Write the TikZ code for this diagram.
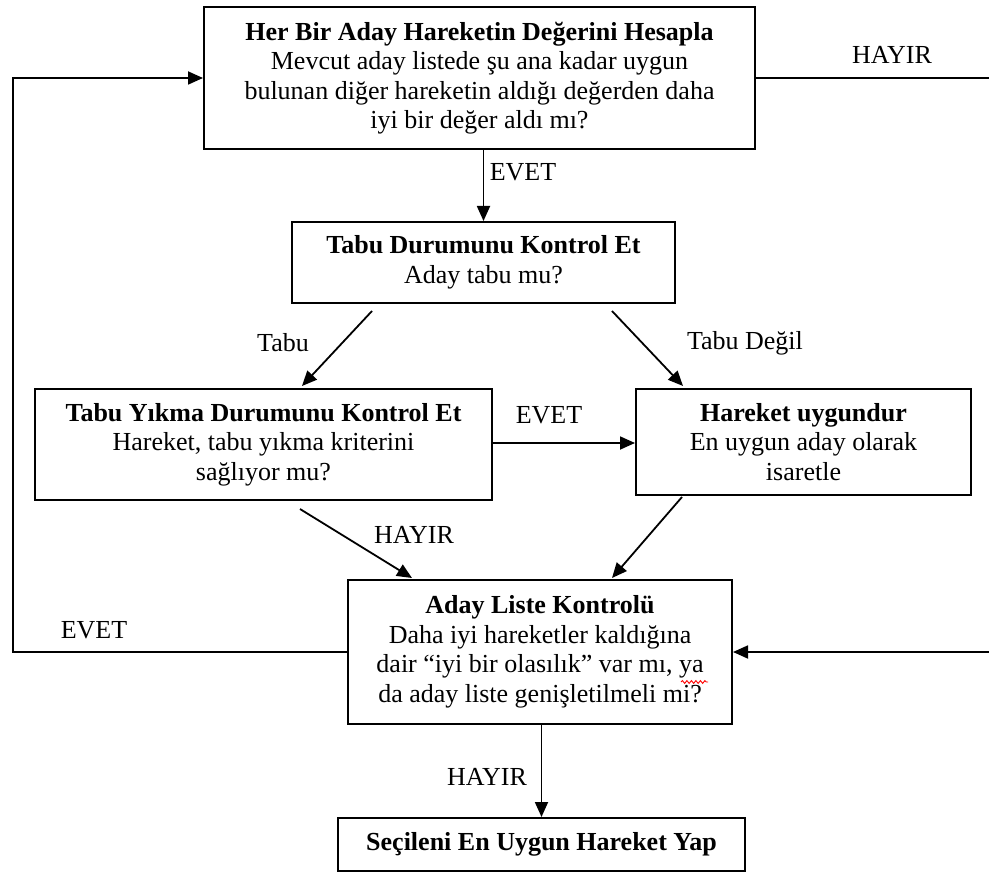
\documentclass[tikz,border=0pt]{standalone}
\usepackage{fontspec}
\setmainfont{Liberation Serif}
\usetikzlibrary{arrows.meta,calc,decorations.pathmorphing}
\begin{document}
\begin{tikzpicture}[x=1pt,y=-1pt,
  every node/.style={font=\fontsize{26}{29.5}\selectfont},
  box/.style={draw,line width=2pt,rectangle,inner sep=0pt,align=center},
  link/.style={line width=1.8pt},
  arr/.style={link,-{Triangle[length=15pt,width=13pt]}},
  lbl/.style={inner sep=0pt},
  spellmark/.style={draw=red,line width=0.9pt,decorate,
    decoration={snake,amplitude=1.4pt,segment length=4.5pt}}]
\useasboundingbox[fill=white] (0,0) rectangle (989,872);

% process boxes
\node[box,minimum width=551,minimum height=142] (eval) at (479.5,78)
  {\textbf{Her Bir Aday Hareketin Değerini Hesapla}\\Mevcut aday listede şu ana kadar uygun\\bulunan diğer hareketin aldığı değerden daha\\iyi bir değer aldı mı?};
\node[box,minimum width=383,minimum height=81] (tabu) at (483.5,262.5)
  {\textbf{Tabu Durumunu Kontrol Et}\\Aday tabu mu?};
\node[box,minimum width=457,minimum height=111] (yikma) at (263.5,444.5)
  {\textbf{Tabu Yıkma Durumunu Kontrol Et}\\Hareket, tabu yıkma kriterini\\sağlıyor mu?};
\node[box,minimum width=335,minimum height=106] (uygun) at (803.5,442)
  {\textbf{Hareket uygundur}\\En uygun aday olarak\\isaretle};
\node[box,minimum width=384,minimum height=144] (aday) at (540,652)
  {\textbf{Aday Liste Kontrolü}\\Daha iyi hareketler kaldığına\\dair “iyi bir olasılık” var mı, ya\\da aday liste genişletilmeli mi?};
\node[box,minimum width=407,minimum height=53] (sec) at (541.5,844.5)
  {\textbf{Seçileni En Uygun Hareket Yap}};

% red wavy underline under "ya"
\path[spellmark] (681,682) -- (708,682);

% loose ends running off the right margin and the left return path
\coordinate (rTop) at (989,78);
\coordinate (rBot) at (989,652);
\coordinate (loopL) at (13,78);

% connectors
\draw[arr] (tabu.north |- eval.south) -- (tabu.north);
\draw[arr] ($(tabu.south)+(-111.5,7)$) -- ($(yikma.north)+(38.5,-2)$);
\draw[arr] ($(tabu.south)+(128.5,7)$) -- ($(uygun.north)+(-120.5,-2)$);
\draw[arr] (yikma.east |- 0,443) -- (uygun.west |- 0,443);
\draw[arr] ($(yikma.south)+(36.5,8)$) -- ($(aday.north)+(-128,-1)$);
\draw[arr] ($(uygun.south)+(-121.5,1)$) -- ($(aday.north)+(72,-1)$);
\draw[arr] (aday.south -| sec.north) -- (sec.north);
\draw[arr] (aday.west) -| (loopL) -- (eval.west);
\draw[link] (eval.east) -- (rTop);
\draw[arr] (rBot) -- (aday.east);

% connector labels
\node[lbl] (lHayirTop) at (892,55) {HAYIR};
\node[lbl] (lEvetTop) at (523,172) {EVET};
\node[lbl] (lTabu) at (283,343) {Tabu};
\node[lbl] (lTabuDegil) at (745,343) {Tabu Değil};
\node[lbl] (lEvetMid) at (549,415) {EVET};
\node[lbl] (lHayirMid) at (414,535) {HAYIR};
\node[lbl] (lEvetLeft) at (94,630) {EVET};
\node[lbl] (lHayirBot) at (487,777) {HAYIR};
\end{tikzpicture}
\end{document}
